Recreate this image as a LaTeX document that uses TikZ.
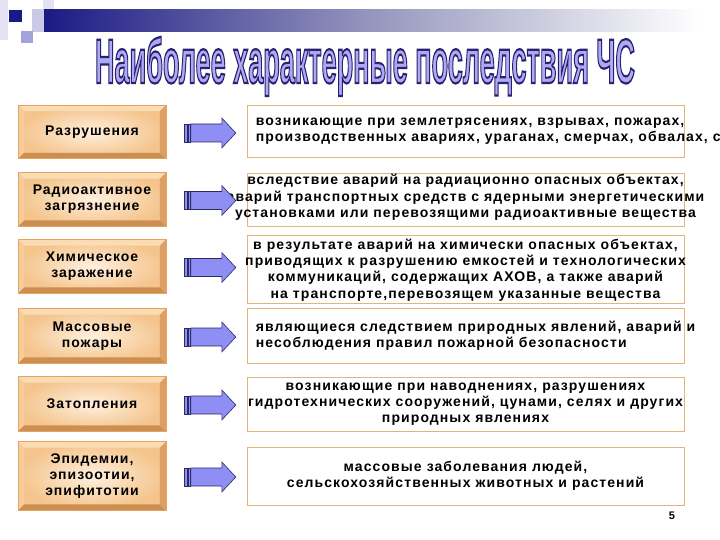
\documentclass[tikz,border=0pt]{standalone}
\usepackage{fontspec}
\setmainfont{Liberation Sans}
\newfontfamily\rfont[LetterSpace=7.8]{Liberation Sans}
\newfontfamily\lfont[LetterSpace=7]{Liberation Sans}
\newfontfamily\titfont[FakeBold=3.5]{Liberation Sans Bold}
\usetikzlibrary{calc}
\definecolor{navyA}{HTML}{1A1A84}
\definecolor{paleA}{HTML}{E2E2F2}
\definecolor{paleB}{HTML}{CACAE6}
\definecolor{lavA}{HTML}{A2A2D6}
\definecolor{titfill}{HTML}{ABABF2}
\definecolor{faceIn}{HTML}{FFF0DE}
\definecolor{faceOut}{HTML}{F4C48C}
\definecolor{bevTop}{HTML}{FADCB4}
\definecolor{bevLeft}{HTML}{F6CC98}
\definecolor{bevBot}{HTML}{CD8E52}
\definecolor{bevRight}{HTML}{DDA064}
\definecolor{boxEdge}{HTML}{E2A45E}
\definecolor{rEdge}{HTML}{E6B47A}
\definecolor{arrFill}{HTML}{8E8EF4}
\definecolor{arrLine}{HTML}{2A2A66}
\tikzset{
  lbox/.style={minimum width=147pt, minimum height=53pt, inner color=faceIn, outer color=faceOut, draw=boxEdge, line width=0.6pt},
  ltext/.style={align=center, font=\lfont\fontsize{14}{16}\selectfont\bfseries, text=black},
  rbox/.style={minimum width=437pt, draw=rEdge, fill=white, line width=0.8pt},
  rtext/.style={font=\rfont\fontsize{14}{16.3}\selectfont\bfseries, text=black, inner sep=0pt},
  arr/.style={fill=arrFill, draw=arrLine, line width=0.6pt},
}
\newcommand{\ttltext}{\resizebox{540pt}{\height}{\color{titfill}\special{pdf:code 0.18 0.12 0.45 RG}\fontsize{63}{63}\selectfont\titfont Наиболее характерные последствия ЧС}}
\newcommand{\bevel}[1]{%
  \fill[bevTop] (#1.north west) -- (#1.north east) -- ($(#1.north east)+(-6,6)$) -- ($(#1.north west)+(6,6)$) -- cycle;
  \fill[bevLeft] (#1.north west) -- ($(#1.north west)+(6,6)$) -- ($(#1.south west)+(6,-6)$) -- (#1.south west) -- cycle;
  \fill[bevBot] (#1.south west) -- ($(#1.south west)+(6,-6)$) -- ($(#1.south east)+(-6,-6)$) -- (#1.south east) -- cycle;
  \fill[bevRight] (#1.north east) -- (#1.south east) -- ($(#1.south east)+(-6,-6)$) -- ($(#1.north east)+(-6,6)$) -- cycle;
  \draw[boxEdge, line width=0.6pt] (#1.north west) rectangle (#1.south east);
}
\newcommand{\barrow}[1]{%
  \coordinate (A#1) at ($(#1.east)+(18,1)$);
  \begin{scope}[shift={(A#1)}]
    \draw[arr] (0,-9) rectangle (3,9);
    \draw[arr] (4,-9) rectangle (6.5,9);
    \draw[arr] (7,-9) -- (38,-9) -- (38,-15) -- (52,0) -- (38,15) -- (38,9) -- (7,9) -- cycle;
  \end{scope}
}
\begin{document}
\begin{tikzpicture}[x=1pt,y=-1pt]
\useasboundingbox (0,0) rectangle (720,540);
\fill[white] (0,0) rectangle (720,540);
% top-left decoration
\fill[paleA] (0,0) rectangle (8,40);
\fill[paleA] (43,0) rectangle (54,10);
\shade[left color=navyA, right color=white, middle color={rgb,255:red,150;green,150;blue,190}] (43,10) rectangle (700,32);
\fill[paleB] (32,9) rectangle (44,32);
\fill[lavA] (21,31) rectangle (33,43);
\fill[navyA] (9,10) rectangle (22,22);
% title
\node[anchor=base, inner sep=0pt] (title) at (365,83) {\ttltext};
% left boxes
\node[lbox, minimum height=53pt] (L1) at (92,132) {};
\node[lbox, minimum height=53pt] (L2) at (92,199.5) {};
\node[lbox, minimum height=53pt] (L3) at (92,266.5) {};
\node[lbox, minimum height=54pt] (L4) at (92,336) {};
\node[lbox, minimum height=54pt] (L5) at (92,404) {};
\node[lbox, minimum height=68pt] (L6) at (92,476) {};
\foreach \n in {L1,L2,L3,L4,L5,L6}{\bevel{\n}}
\node[ltext] (K1) at (L1.center) {Разрушения};
\node[ltext] (K2) at (L2.center) {Радиоактивное\\загрязнение};
\node[ltext] (K3) at (L3.center) {Химическое\\заражение};
\node[ltext] (K4) at (L4.center) {Массовые\\пожары};
\node[ltext] (K5) at (L5.center) {Затопления};
\node[ltext] (K6) at (L6.center) {Эпидемии,\\эпизоотии,\\эпифитотии};
% right boxes
\node[rbox, minimum height=52pt] (R1) at (465.5,131) {};
\node[rbox, minimum height=53pt] (R2) at (465.5,199.5) {};
\node[rbox, minimum height=68pt] (R3) at (465.5,269) {};
\node[rbox, minimum height=55pt] (R4) at (465.5,335.5) {};
\node[rbox, minimum height=54pt] (R5) at (465.5,404) {};
\node[rbox, minimum height=58pt] (R6) at (465.5,476) {};
\node[rtext, align=left, anchor=west] (T1) at ($(R1.west)+(9,0)$) {возникающие при землетрясениях, взрывах, пожарах,\\производственных авариях, ураганах, смерчах, обвалах, с};
\node[rtext, align=center] (T2) at ($(R2.center)+(0,-2)$) {вследствие аварий на радиационно опасных объектах,\\аварий транспортных средств с ядерными энергетическими\\установками или перевозящими радиоактивные вещества};
\node[rtext, align=center] (T3) at ($(R3.center)+(0,1)$) {в результате аварий на химически опасных объектах,\\приводящих к разрушению емкостей и технологических\\коммуникаций, содержащих АХОВ, а также аварий\\на транспорте,перевозящем указанные вещества};
\node[rtext, align=left, anchor=west] (T4) at ($(R4.west)+(9,0)$) {являющиеся следствием природных явлений, аварий и\\несоблюдения правил пожарной безопасности};
\node[rtext, align=center] (T5) at (R5.center) {возникающие при наводнениях, разрушениях\\гидротехнических сооружений, цунами, селях и других\\природных явлениях};
\node[rtext, align=center] (T6) at (R6.center) {массовые заболевания людей,\\сельскохозяйственных животных и растений};
% arrows
\foreach \n in {L1,L2,L3,L4,L5,L6}{\barrow{\n}}
% page number
\node[font=\fontsize{11}{13}\selectfont\bfseries] (pg) at (672,516) {5};
\end{tikzpicture}
\end{document}
